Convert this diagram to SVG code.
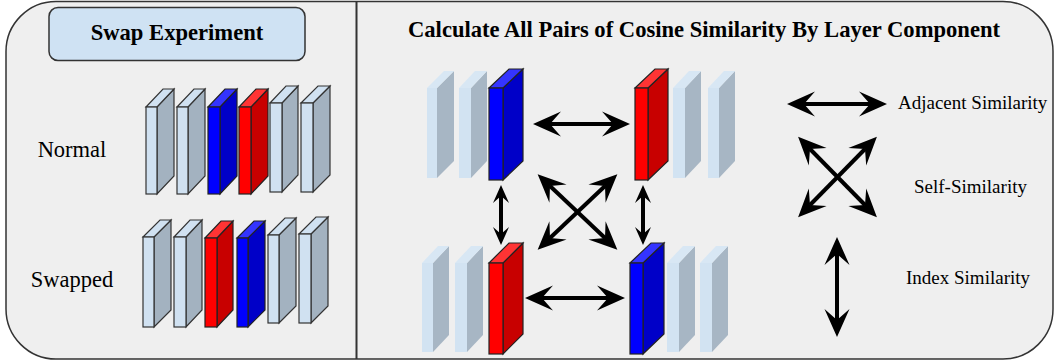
<svg xmlns="http://www.w3.org/2000/svg" width="1055" height="362" viewBox="0 0 1055 362">
<style>
.f{fill:#d0e1f1;stroke:#333;stroke-width:1.2}
.s{fill:#a3b2c0;stroke:#333;stroke-width:1.2}
.bf{fill:#0000ff;stroke:#222;stroke-width:1.2}
.bs{fill:#0000c8;stroke:#222;stroke-width:1.2}
.bt{fill:#3434ff;stroke:#222;stroke-width:1.2}
.rf{fill:#ff0000;stroke:#222;stroke-width:1.2}
.rs{fill:#c80000;stroke:#222;stroke-width:1.2}
.rt{fill:#ff3434;stroke:#222;stroke-width:1.2}
.ff{fill:#d2e3f2;stroke:none}
.fs{fill:#a7b6c4;stroke:none}
.ft{fill:#d8e7f4;stroke:none}
.ar{stroke:#000;stroke-width:4;fill:none}
.arB{marker-start:url(#hb);marker-end:url(#hb)}
.arS{marker-start:url(#hs);marker-end:url(#hs)}
</style>
<defs>
<marker id="hb" viewBox="-29 -14 30 28" refX="-17" refY="0" markerWidth="30" markerHeight="28" markerUnits="userSpaceOnUse" orient="auto-start-reverse">
<path d="M0,0 L-28,-12.5 L-17,0 L-28,12.5 Z" fill="#000"/>
</marker>
<marker id="hs" viewBox="-19 -9 20 18" refX="-11" refY="0" markerWidth="20" markerHeight="18" markerUnits="userSpaceOnUse" orient="auto-start-reverse">
<path d="M0,0 L-18,-8 L-11,0 L-18,8 Z" fill="#000"/>
</marker>
</defs>

<g id="frame">
<path d="M56,1.5 H1003 A50,50 0 0 1 1053,51.5 V309 A50,50 0 0 1 1003,359 H56 A50,50 0 0 1 6,309 V51.5 A50,50 0 0 1 56,1.5 Z" fill="#efefef" stroke="#333" stroke-width="1.5"/>
<line x1="356.5" y1="1.5" x2="356.5" y2="359" stroke="#333" stroke-width="2"/>
</g>

<g font-family="'Liberation Serif', 'DejaVu Serif', 'Times New Roman', serif" fill="#000">
<g id="swap-title">
<rect x="49" y="7.5" width="256" height="53" rx="9" fill="#cfe2f3" stroke="#333" stroke-width="1.5"/>
<text x="177" y="40" text-anchor="middle" font-size="22.6" font-weight="bold">Swap Experiment</text>
</g>
<g id="calc-title">
<text x="704" y="37" text-anchor="middle" font-size="22.6" font-weight="bold">Calculate All Pairs of Cosine Similarity By Layer Component</text>
</g>
<g id="normal-label"><text x="72" y="157" text-anchor="middle" font-size="22.5">Normal</text></g>
<g id="swapped-label"><text x="72" y="287" text-anchor="middle" font-size="22.5">Swapped</text></g>
<g id="legend-labels" font-size="19">
<text x="898" y="109">Adjacent Similarity</text>
<text x="914" y="193">Self-Similarity</text>
<text x="906" y="284">Index Similarity</text>
</g>
</g>

<g id="normal-row">
<g id="n1"><polygon class="s" points="157,107 174,89 174,176 157,194"/><polygon class="f" points="146,107 163,89 174,89 157,107"/><rect class="f" x="146" y="107" width="11" height="87"/></g>
<g id="n2"><polygon class="s" points="188,107 205,89 205,176 188,194"/><polygon class="f" points="177,107 194,89 205,89 188,107"/><rect class="f" x="177" y="107" width="11" height="87"/></g>
<g id="n3"><polygon class="bs" points="220,107 237,89 237,176 220,194"/><polygon class="bt" points="208,107 225,89 237,89 220,107"/><rect class="bf" x="208" y="107" width="12" height="87"/></g>
<g id="n4"><polygon class="rs" points="251,107 268,89 268,176 251,194"/><polygon class="rt" points="239,107 256,89 268,89 251,107"/><rect class="rf" x="239" y="107" width="12" height="87"/></g>
<g id="n5"><polygon class="s" points="282,103 298,86 298,175 282,192"/><polygon class="f" points="270,103 286,86 298,86 282,103"/><rect class="f" x="270" y="103" width="12" height="89"/></g>
<g id="n6"><polygon class="s" points="313,103 330,86 330,175 313,192"/><polygon class="f" points="301,103 318,86 330,86 313,103"/><rect class="f" x="301" y="103" width="12" height="89"/></g>
</g>

<g id="swapped-row">
<g id="s1"><polygon class="s" points="154,237 171,220 171,310 154,327"/><polygon class="f" points="143,237 160,220 171,220 154,237"/><rect class="f" x="143" y="237" width="11" height="90"/></g>
<g id="s2"><polygon class="s" points="186,237 202,220 202,310 186,327"/><polygon class="f" points="174,237 190,220 202,220 186,237"/><rect class="f" x="174" y="237" width="12" height="90"/></g>
<g id="s3"><polygon class="rs" points="217,238 233,221 233,310 217,327"/><polygon class="rt" points="205,238 221,221 233,221 217,238"/><rect class="rf" x="205" y="238" width="12" height="89"/></g>
<g id="s4"><polygon class="bs" points="248,238 265,221 265,310 248,327"/><polygon class="bt" points="237,238 254,221 265,221 248,238"/><rect class="bf" x="237" y="238" width="11" height="89"/></g>
<g id="s5"><polygon class="s" points="279,235 296,218 296,306 279,323"/><polygon class="f" points="268,235 285,218 296,218 279,235"/><rect class="f" x="268" y="235" width="11" height="88"/></g>
<g id="s6"><polygon class="s" points="311,234 328,217 328,306 311,323"/><polygon class="f" points="299,234 316,217 328,217 311,234"/><rect class="f" x="299" y="234" width="12" height="89"/></g>
</g>

<g id="group-top-left">
<g><polygon class="fs" points="437,88 454,71 454,161 437,178"/><polygon class="ft" points="427,88 444,71 454,71 437,88"/><rect class="ff" x="427" y="88" width="10" height="90"/></g>
<g><polygon class="fs" points="471,88 487,71 487,161 471,178"/><polygon class="ft" points="459,88 475,71 487,71 471,88"/><rect class="ff" x="459" y="88" width="12" height="90"/></g>
<g><polygon class="bs" points="503,88 523,69 523,161 503,180"/><polygon class="bt" points="489,88 509,69 523,69 503,88"/><rect class="bf" x="489" y="88" width="14" height="92"/></g>
</g>

<g id="group-top-right">
<g><polygon class="rs" points="648,88 668,69 668,161 648,180"/><polygon class="rt" points="635,88 655,69 668,69 648,88"/><rect class="rf" x="635" y="88" width="13" height="92"/></g>
<g><polygon class="fs" points="685,88 701,71 701,161 685,178"/><polygon class="ft" points="673,88 689,71 701,71 685,88"/><rect class="ff" x="673" y="88" width="12" height="90"/></g>
<g><polygon class="fs" points="719,88 735,71 735,161 719,178"/><polygon class="ft" points="708,88 724,71 735,71 719,88"/><rect class="ff" x="708" y="88" width="11" height="90"/></g>
</g>

<g id="group-bottom-left">
<g><polygon class="fs" points="433,263 449,246 449,335 433,352"/><polygon class="ft" points="422,263 438,246 449,246 433,263"/><rect class="ff" x="422" y="263" width="11" height="89"/></g>
<g><polygon class="fs" points="467,263 483,246 483,335 467,352"/><polygon class="ft" points="455,263 471,246 483,246 467,263"/><rect class="ff" x="455" y="263" width="12" height="89"/></g>
<g><polygon class="rs" points="503,263 523,243 523,334 503,354"/><polygon class="rt" points="489,263 509,243 523,243 503,263"/><rect class="rf" x="489" y="263" width="14" height="91"/></g>
</g>

<g id="group-bottom-right">
<g><polygon class="bs" points="643,263 664,243 664,334 643,354"/><polygon class="bt" points="630,263 651,243 664,243 643,263"/><rect class="bf" x="630" y="263" width="13" height="91"/></g>
<g><polygon class="fs" points="679,263 695,246 695,335 679,352"/><polygon class="ft" points="667,263 683,246 695,246 679,263"/><rect class="ff" x="667" y="263" width="12" height="89"/></g>
<g><polygon class="fs" points="712,263 728,246 728,335 712,352"/><polygon class="ft" points="700,263 716,246 728,246 712,263"/><rect class="ff" x="700" y="263" width="12" height="89"/></g>
</g>

<g id="connectors">
<line class="ar arB" x1="550" y1="124" x2="613" y2="124"/>
<line class="ar arB" x1="542" y1="298" x2="608" y2="298"/>
<line class="ar arS" x1="501" y1="196" x2="501" y2="234"/>
<line class="ar arS" x1="643" y1="196" x2="643" y2="234"/>
<line class="ar arB" x1="550" y1="186" x2="605" y2="238"/>
<line class="ar arB" x1="605" y1="186" x2="550" y2="238"/>
<line class="ar arB" x1="804" y1="104" x2="870" y2="104"/>
<line class="ar arB" x1="810" y1="149" x2="865" y2="205"/>
<line class="ar arB" x1="865" y1="149" x2="810" y2="205"/>
<line class="ar arB" x1="837" y1="254" x2="837" y2="320"/>
</g>
</svg>
